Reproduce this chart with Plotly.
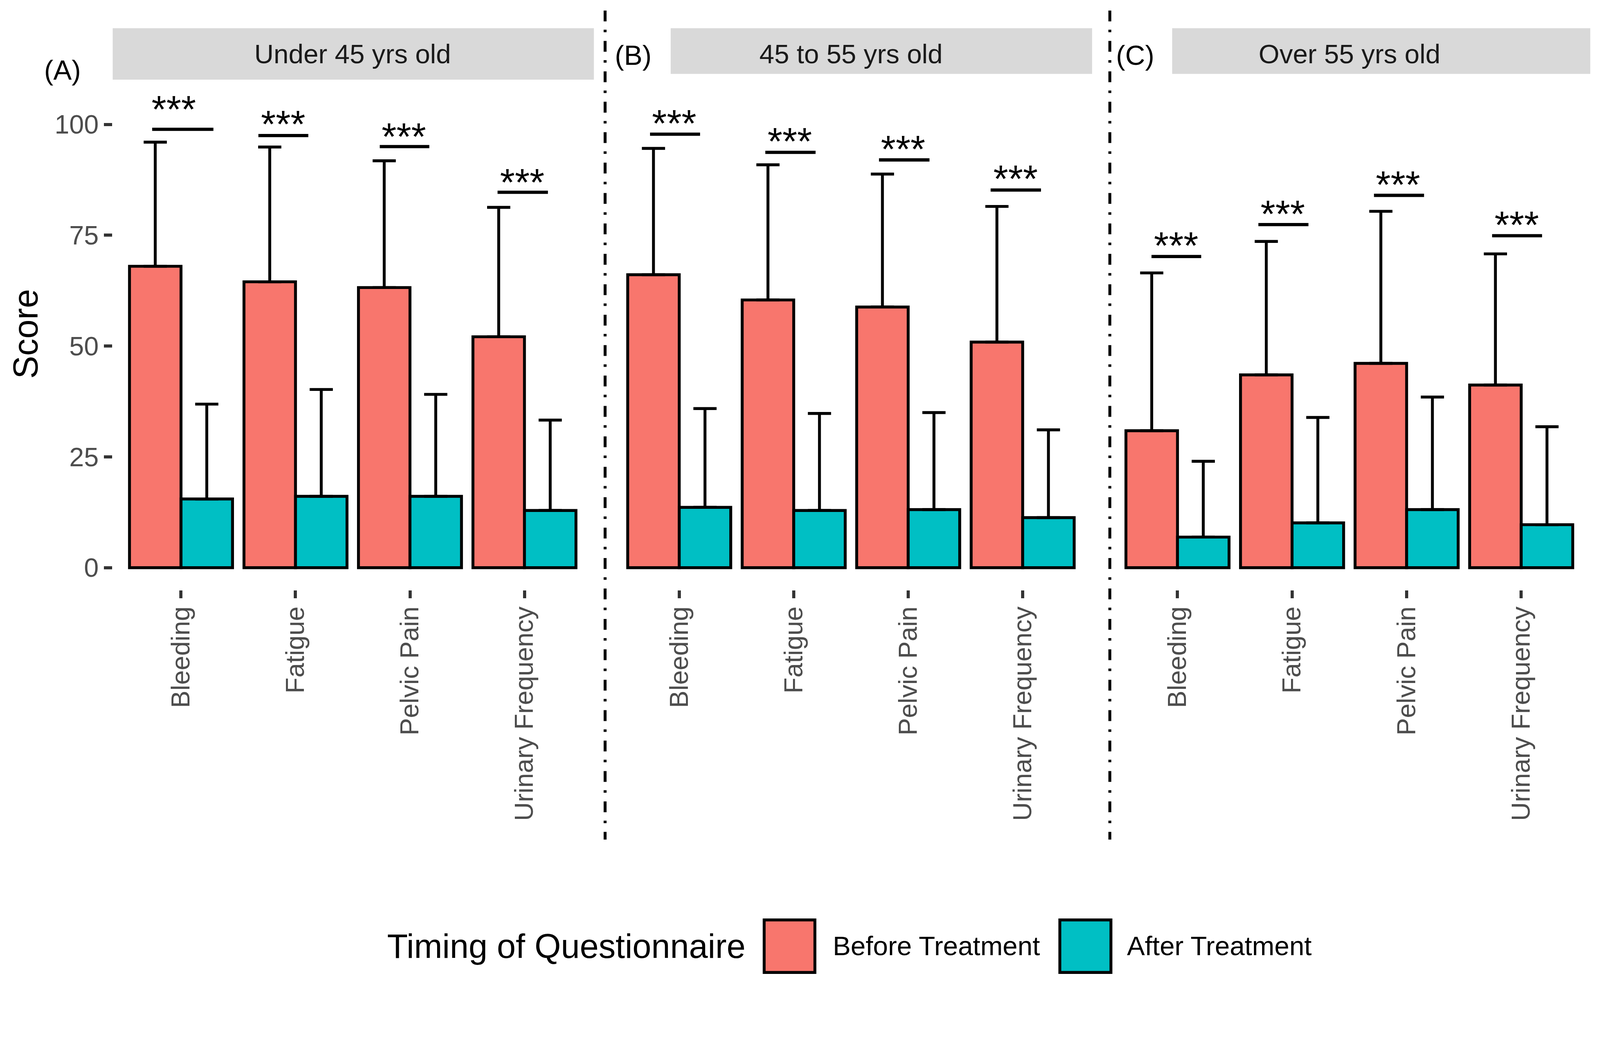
import plotly.graph_objects as go

# ---------------- data ----------------
categories = ["Bleeding", "Fatigue", "Pelvic Pain", "Urinary Frequency"]
panel_titles = ["Under 45 yrs old", "45 to 55 yrs old", "Over 55 yrs old"]
panel_tags = ["(A)", "(B)", "(C)"]
series_names = ["Before Treatment", "After Treatment"]
legend_title = "Timing of Questionnaire"
y_title = "Score"
y_ticks = [0, 25, 50, 75, 100]
sig_label = "***"

before_A = [68.0, 64.5, 63.2, 52.1]
before_B = [66.1, 60.4, 58.8, 50.9]
before_C = [30.9, 43.5, 46.1, 41.2]
before_sd_A = [28.0, 30.4, 28.6, 29.2]
before_sd_B = [28.5, 30.5, 30.0, 30.6]
before_sd_C = [35.6, 30.1, 34.3, 29.6]

after_A = [15.5, 16.1, 16.1, 12.9]
after_B = [13.6, 12.9, 13.1, 11.3]
after_C = [6.9, 10.1, 13.1, 9.7]
after_sd_A = [21.4, 24.1, 23.0, 20.4]
after_sd_B = [22.3, 21.9, 21.9, 19.8]
after_sd_C = [17.1, 23.8, 25.4, 22.1]

# significance bracket heights and star heights (score units)
sig_y_A = [98.9, 97.5, 95.0, 84.7]
sig_y_B = [97.8, 93.7, 92.0, 85.2]
sig_y_C = [70.2, 77.4, 84.0, 74.9]
star_y_A = [104.6, 101.2, 98.4, 88.1]
star_y_B = [101.4, 97.4, 95.6, 88.9]
star_y_C = [73.8, 81.0, 87.6, 78.5]

before_means = [before_A, before_B, before_C]
before_sds = [before_sd_A, before_sd_B, before_sd_C]
after_means = [after_A, after_B, after_C]
after_sds = [after_sd_A, after_sd_B, after_sd_C]
sig_ys = [sig_y_A, sig_y_B, sig_y_C]
star_ys = [star_y_A, star_y_B, star_y_C]

# ---------------- layout / style ----------------
PW, PH = 4419, 2717          # picture pixels
K = 1 / 1.078                # picture px -> css px
W, H = round(PW * K), round(PH * K)
FONT = "Liberation Sans, Arial, Helvetica, sans-serif"
RED = "#F8766D"
TEAL = "#00BFC4"


def s(v):
    return v * K


def fx(px):
    return px / PW


def fy(py):
    return 1 - py / PH


panel_px = [(310, 1637), (1685, 3012), (3060, 4388)]
panel_top_px, panel_bottom_px = 220, 1629
y_range = [-5.04, 110.1]
x_range = [-0.6, 3.6]

sig_left = [[-0.252, -0.324, -0.264, -0.235],
            [-0.255, -0.248, -0.255, -0.280],
            [-0.227, -0.294, -0.285, -0.254]]
sig_right = [[0.283, 0.112, 0.169, 0.205],
             [0.182, 0.191, 0.186, 0.160],
             [0.207, 0.143, 0.152, 0.182]]
star_dx = [[-0.064, -0.106, -0.052, -0.019],
           [-0.043, -0.033, -0.044, -0.063],
           [-0.013, -0.080, -0.076, -0.040]]

fig = go.Figure()
xpos = list(range(len(categories)))

for p in range(3):
    xa = "x" if p == 0 else f"x{p+1}"
    ya = "y" if p == 0 else f"y{p+1}"
    for name, means, sds, col in [
        (series_names[0], before_means[p], before_sds[p], RED),
        (series_names[1], after_means[p], after_sds[p], TEAL),
    ]:
        fig.add_trace(go.Bar(
            x=xpos, y=means, name=name, xaxis=xa, yaxis=ya,
            marker=dict(color=col, line=dict(color="black", width=s(8))),
            error_y=dict(type="data", symmetric=False, array=sds,
                         arrayminus=[0] * len(sds), color="black",
                         thickness=s(8), width=s(32)),
            showlegend=False, hoverinfo="skip",
        ))

layout = dict(
    width=W, height=H,
    margin=dict(l=0, r=0, t=0, b=0),
    paper_bgcolor="white", plot_bgcolor="white",
    barmode="group", bargap=0.1, bargroupgap=0,
    showlegend=False,
    font=dict(family=FONT),
)

for p in range(3):
    xk = "xaxis" if p == 0 else f"xaxis{p+1}"
    yk = "yaxis" if p == 0 else f"yaxis{p+1}"
    xa_name = "x" if p == 0 else f"x{p+1}"
    ya_name = "y" if p == 0 else f"y{p+1}"
    l, r = panel_px[p]
    layout[xk] = dict(
        domain=[fx(l), fx(r)], range=x_range, anchor=ya_name,
        tickmode="array", tickvals=xpos, ticktext=categories,
        tickangle=-90, ticks="outside", ticklen=s(22), tickwidth=s(9),
        tickcolor="#333333", ticklabelstandoff=-6,
        tickfont=dict(family=FONT, size=s(72), color="#4D4D4D"),
        showgrid=False, zeroline=False, showline=False, fixedrange=True,
    )
    ydict = dict(
        domain=[fy(panel_bottom_px), fy(panel_top_px)], range=y_range,
        anchor=xa_name, showgrid=False, zeroline=False, showline=False,
        fixedrange=True,
    )
    if p == 0:
        ydict.update(tickmode="array", tickvals=y_ticks,
                     ticktext=[str(t) for t in y_ticks],
                     ticks="outside", ticklen=s(22), tickwidth=s(9),
                     tickcolor="#333333", ticklabelstandoff=0,
                     tickfont=dict(family=FONT, size=s(73), color="#4D4D4D"))
    else:
        ydict.update(showticklabels=False, ticks="", matches="y")
    layout[yk] = ydict

fig.update_layout(**layout)

shapes = []
annotations = []

# strips
strip_px = [(311, 1639, 78, 220), (1851, 3014, 78, 204), (3235, 4389, 78, 204)]
for (x0, x1, y0, y1) in strip_px:
    shapes.append(dict(type="rect", xref="paper", yref="paper",
                       x0=fx(x0), x1=fx(x1), y0=fy(y1), y1=fy(y0),
                       fillcolor="#D9D9D9", line=dict(width=0), layer="below"))
for p in range(3):
    l, r = panel_px[p]
    annotations.append(dict(text=panel_titles[p], xref="paper", yref="paper",
                            x=fx((l + r) / 2), y=fy(149), xanchor="center",
                            yanchor="middle", showarrow=False,
                            font=dict(family=FONT, size=s(74), color="#1A1A1A")))

# panel tags
tag_px = [(173, 193), (1748, 153), (3133, 153)]
for t, (x, y) in zip(panel_tags, tag_px):
    annotations.append(dict(text=t, xref="paper", yref="paper", x=fx(x), y=fy(y),
                            xanchor="center", yanchor="middle", showarrow=False,
                            font=dict(family=FONT, size=s(76), color="black")))

# dash-dot separators
dash = ",".join(f"{s(v):.1f}px" for v in (30, 23, 7, 24))
for x in [1670, 3063]:
    shapes.append(dict(type="line", xref="paper", yref="paper",
                       x0=fx(x), x1=fx(x), y0=fy(29), y1=fy(2318),
                       line=dict(color="black", width=s(8), dash=dash)))

# significance brackets and stars
for p in range(3):
    xa_name = "x" if p == 0 else f"x{p+1}"
    ya_name = "y" if p == 0 else f"y{p+1}"
    for i in range(len(categories)):
        shapes.append(dict(type="line", xref=xa_name, yref=ya_name,
                           x0=i + sig_left[p][i], x1=i + sig_right[p][i],
                           y0=sig_ys[p][i], y1=sig_ys[p][i],
                           line=dict(color="black", width=s(9))))
        annotations.append(dict(text=sig_label, xref=xa_name, yref=ya_name,
                                x=i + star_dx[p][i], y=star_ys[p][i],
                                xanchor="center", yanchor="middle", yshift=s(-15),
                                showarrow=False,
                                font=dict(family=FONT, size=s(105), color="black")))

# y-axis title
annotations.append(dict(text=y_title, xref="paper", yref="paper",
                        x=fx(70), y=fy(922), textangle=-90,
                        xanchor="center", yanchor="middle", showarrow=False,
                        font=dict(family=FONT, size=s(95), color="black")))

# legend (drawn manually to match the reference key sizes)
annotations.append(dict(text=legend_title, xref="paper", yref="paper",
                        x=fx(1066), y=fy(2612), xanchor="left", yanchor="middle",
                        showarrow=False,
                        font=dict(family=FONT, size=s(93.5), color="black")))
legend_boxes = [(2109, 2249, RED), (2925, 3066, TEAL)]
legend_text_x = [2296, 3108]
for (x0, x1, col), name, tx in zip(legend_boxes, series_names, legend_text_x):
    shapes.append(dict(type="rect", xref="paper", yref="paper",
                       x0=fx(x0), x1=fx(x1), y0=fy(2685), y1=fy(2540),
                       fillcolor=col, line=dict(color="black", width=s(8))))
    annotations.append(dict(text=name, xref="paper", yref="paper",
                            x=fx(tx), y=fy(2612), xanchor="left", yanchor="middle",
                            showarrow=False,
                            font=dict(family=FONT, size=s(74), color="black")))

fig.update_layout(shapes=shapes, annotations=annotations)
fig.write_html("out.html", config={"displayModeBar": False},
               post_script="document.body.style.margin='0';")
